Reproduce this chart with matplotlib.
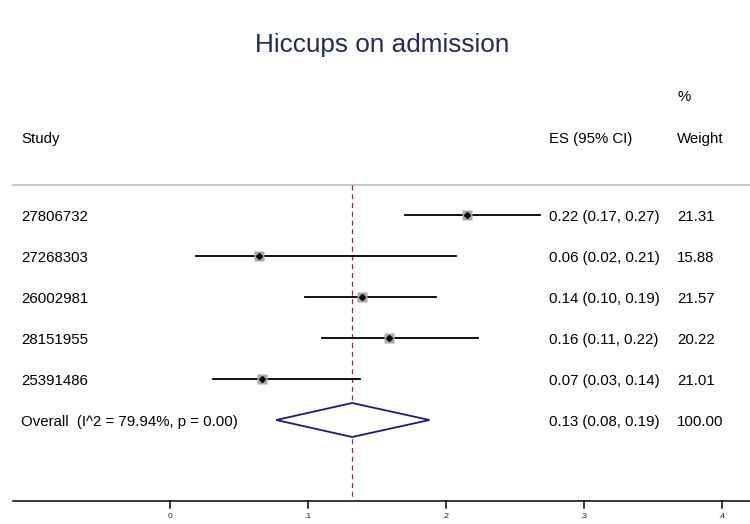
import matplotlib
matplotlib.use("Agg")
import matplotlib.pyplot as plt

plt.rcParams['font.family'] = ['Liberation Sans', 'DejaVu Sans']

title = "Hiccups on admission"
studies = ["27806732", "27268303", "26002981", "28151955", "25391486"]
es = [0.215, 0.0645, 0.139, 0.159, 0.0667]
lo = [0.170, 0.019, 0.098, 0.110, 0.031]
hi = [0.268, 0.207, 0.193, 0.223, 0.138]
es_text = ["0.22 (0.17, 0.27)", "0.06 (0.02, 0.21)", "0.14 (0.10, 0.19)",
           "0.16 (0.11, 0.22)", "0.07 (0.03, 0.14)"]
weights = ["21.31", "15.88", "21.57", "20.22", "21.01"]
overall_label = "Overall  (I^2 = 79.94%, p = 0.00)"
overall_es, overall_lo, overall_hi = 0.132, 0.077, 0.188
overall_text = "0.13 (0.08, 0.19)"
overall_weight = "100.00"
xticks = [0, 0.1, 0.2, 0.3, 0.4]
xticklabels = ["0", ".1", ".2", ".3", ".4"]

W, H = 750, 524
fig = plt.figure(figsize=(W / 100, H / 100), dpi=100)
ax = fig.add_axes([0, 0, 1, 1])
# x in effect-size units: 0 at px 170, 0.1 per 138 px ; y in pixels from top
x0, scale = 170, 1380
ax.set_xlim(-x0 / scale, (W - x0) / scale)
ax.set_ylim(H, 0)
ax.axis("off")

def px(x):
    return (x - x0) / scale

row_top, row_gap = 215, 41
ys = [row_top + i * row_gap for i in range(len(studies))]
y_over = row_top + len(studies) * row_gap
fs = 10.8
dy = 1.8
col_study, col_es, col_w = px(21), px(549), px(677)

fig.text(0.51, 1 - 45 / H, title, ha="center", va="center", fontsize=18.8, color="#1f2d57")

# headers
ax.text(px(678), 95 + dy, "%", fontsize=fs, va="center")
ax.text(col_study, 137 + dy, "Study", fontsize=fs, va="center")
ax.text(col_es, 137 + dy, "ES (95% CI)", fontsize=fs, va="center")
ax.text(col_w, 137 + dy, "Weight", fontsize=fs, va="center")
ax.plot([px(13), px(750)], [185, 185], color="#bdbdbd", lw=1.2)

# axis line and ticks
axis_y = 501
ax.plot([px(13), px(750)], [axis_y, axis_y], color="black", lw=1.1)
for t, lab in zip(xticks, xticklabels):
    ax.plot([t, t], [axis_y, axis_y + 7], color="black", lw=1.1)
    ax.text(t, axis_y + 15, lab, fontsize=6, ha="center", va="center", color="#222222")

# overall line
ax.plot([overall_es, overall_es], [185, axis_y], color="#b22222", lw=0.9,
        ls=(0, (4, 3)))

for y, name, e, l, h, et, w in zip(ys, studies, es, lo, hi, es_text, weights):
    ax.plot([l, h], [y, y], color="black", lw=1.3, zorder=3)
    ax.plot(e, y, marker="s", ms=6.5, color="#a9a9a9", mec="none", zorder=4)
    ax.plot(e, y, marker="D", ms=3.0, color="black", zorder=5)
    ax.text(col_study, y + dy, name, fontsize=fs, va="center")
    ax.text(col_es, y + dy, et, fontsize=fs, va="center")
    ax.text(col_w, y + dy, w, fontsize=fs, va="center")

# overall diamond
dh = 17
ax.fill([overall_lo, overall_es, overall_hi, overall_es, overall_lo],
        [y_over, y_over - dh, y_over, y_over + dh, y_over],
        facecolor="white", edgecolor="#1a1a80", lw=1.3, zorder=3)
ax.text(col_study, y_over + dy, overall_label, fontsize=fs, va="center")
ax.text(col_es, y_over + dy, overall_text, fontsize=fs, va="center")
ax.text(col_w, y_over + dy, overall_weight, fontsize=fs, va="center")

fig.savefig("out.png", dpi=100)
